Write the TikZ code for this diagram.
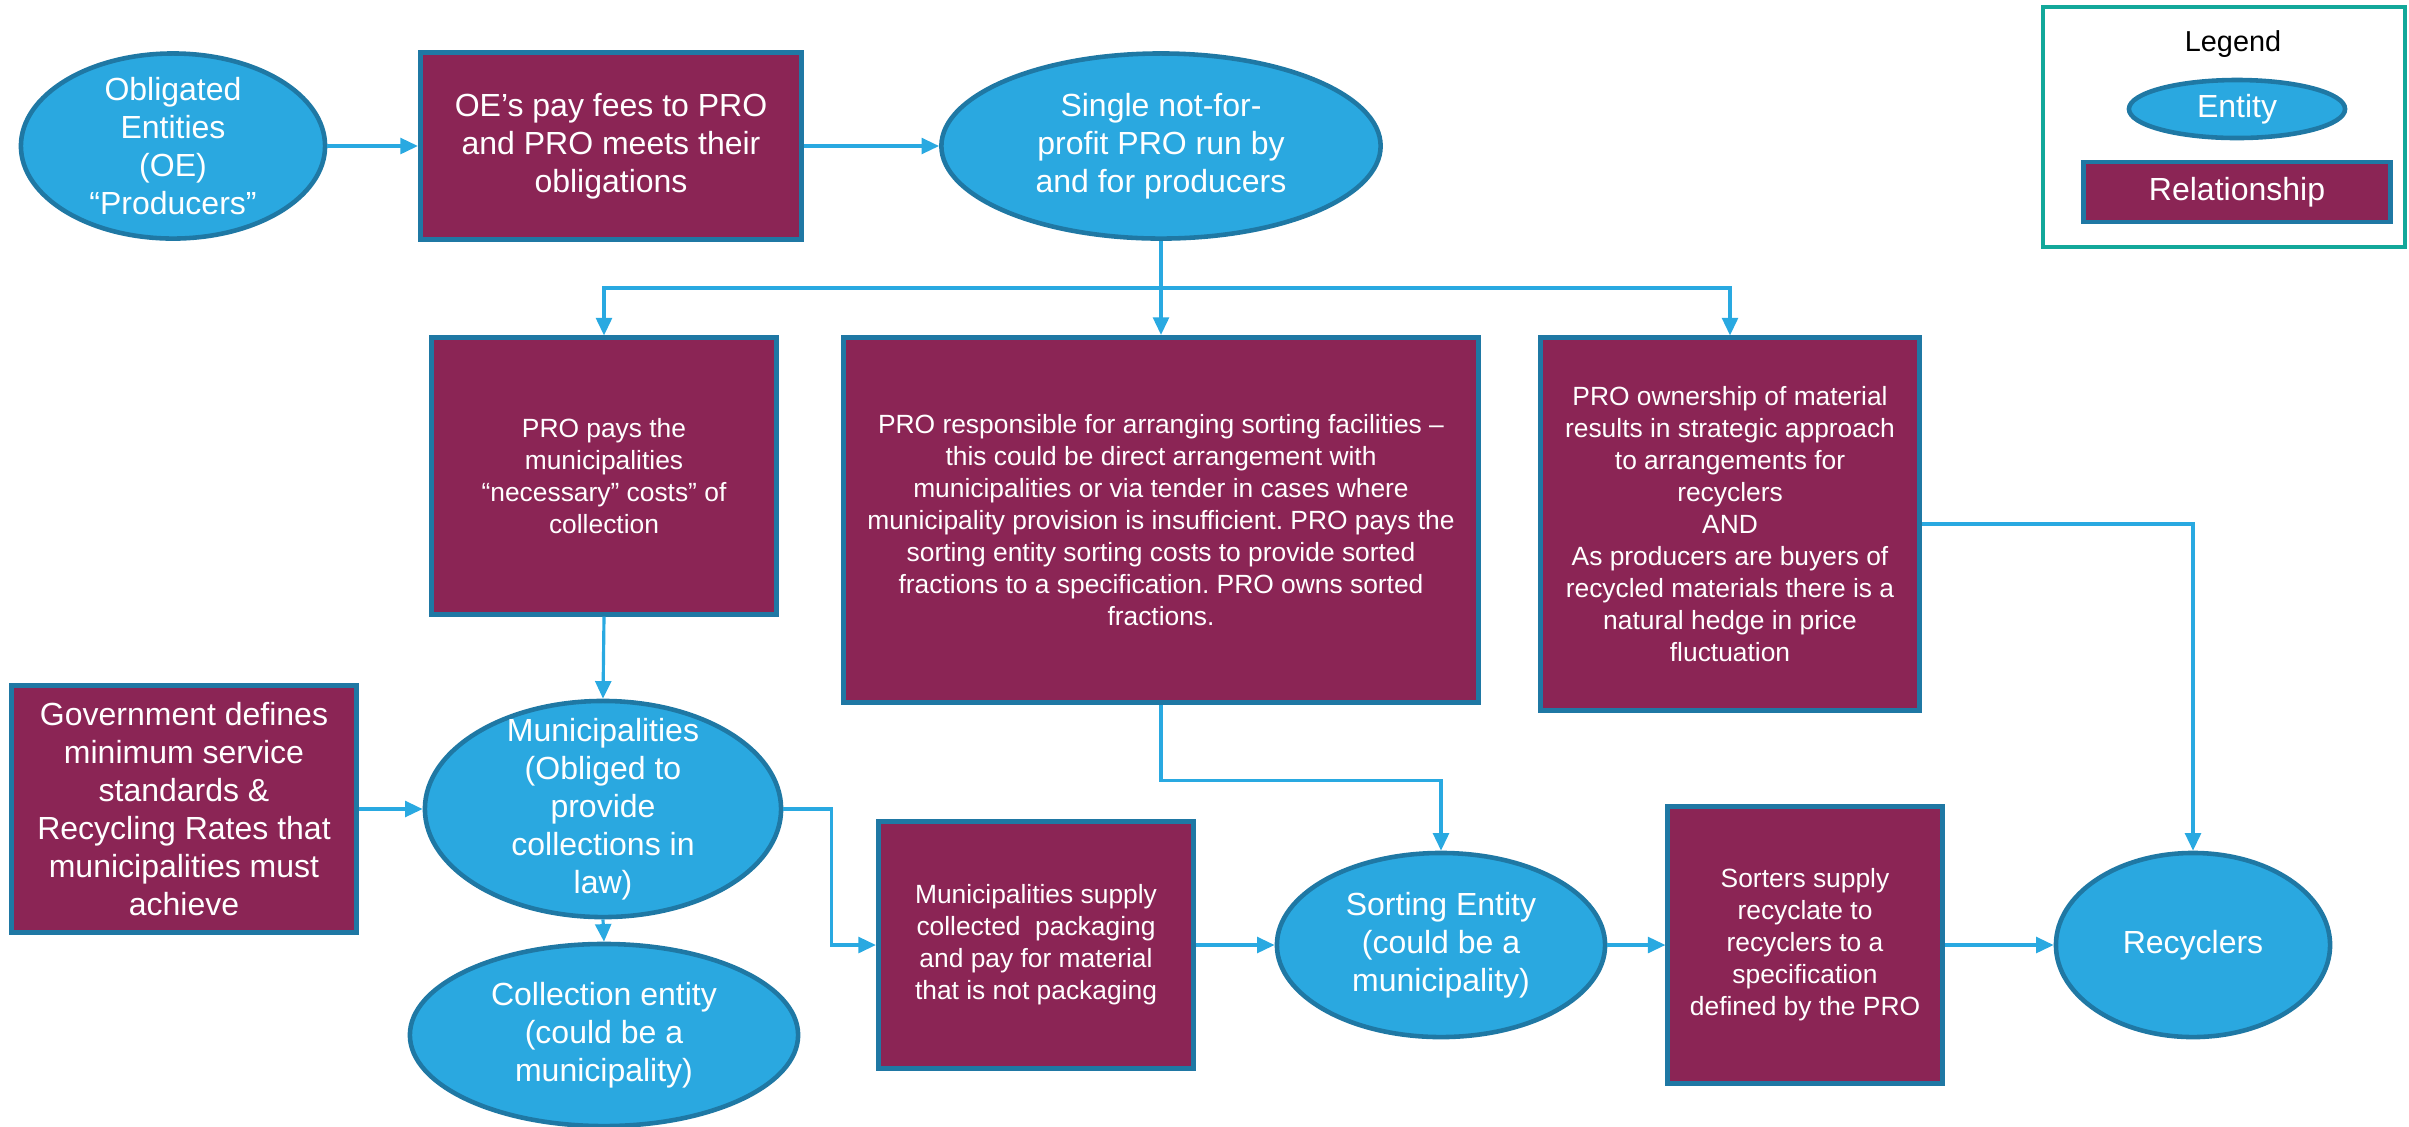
\documentclass[tikz,border=0pt]{standalone}
\usepackage{fontspec}
\setmainfont{Liberation Sans}
\usetikzlibrary{shapes.geometric,arrows.meta}
\frenchspacing
\definecolor{entfill}{HTML}{2AA8E0}
\definecolor{edgeblue}{HTML}{1F78A4}
\definecolor{relfill}{HTML}{8B2555}
\definecolor{linkblue}{HTML}{29A9E1}
\definecolor{legteal}{HTML}{12A89A}
\tikzset{
  entity/.style={ellipse,draw=edgeblue,fill=entfill,line width=1.3pt,inner sep=0pt},
  etext/.style={text=white,align=center,font=\fontsize{9.1}{10.8}\selectfont},
  relation/.style={rectangle,draw=edgeblue,fill=relfill,line width=1.4pt,inner sep=0pt,text=white,align=center},
  big/.style={font=\fontsize{9.1}{10.8}\selectfont},
  small/.style={font=\fontsize{7.5}{9.1}\selectfont},
  link/.style={draw=linkblue,line width=0.9pt,-{Triangle[length=5pt,width=4.5pt]}},
}
\begin{document}
\begin{tikzpicture}[x=0.01cm,y=-0.01cm]
\useasboundingbox (0,0) rectangle (2409,1126);
% top row
\node[entity,minimum width=3.04cm,minimum height=1.85cm,
  label={[etext]center:Obligated\\Entities\\(OE)\\“Producers”}] (oe) at (173,146) {};
\node[relation,big,minimum width=3.81cm,minimum height=1.87cm] (fees) at (611,146)
  {OE’s pay fees to PRO\\and PRO meets their\\obligations};
\node[entity,minimum width=4.39cm,minimum height=1.85cm,
  label={[etext]center:Single not-for-\\profit PRO run by\\and for producers}] (pro) at (1161,146) {};
\coordinate (fork) at (1161,288);
% middle row
\node[relation,small,minimum width=3.45cm,minimum height=2.76cm] (paycoll) at (604,476)
  {PRO pays the\\municipalities\\“necessary” costs” of\\collection};
\node[relation,small,minimum width=6.34cm,minimum height=3.65cm] (sortdeal) at (1161,520)
  {PRO responsible for arranging sorting facilities –\\this could be direct arrangement with\\municipalities or via tender in cases where\\municipality provision is insufficient. PRO pays the\\sorting entity sorting costs to provide sorted\\fractions to a specification. PRO owns sorted\\fractions.};
\node[relation,small,minimum width=3.79cm,minimum height=3.72cm] (owner) at (1730,524)
  {PRO ownership of material\\results in strategic approach\\to arrangements for\\recyclers\\AND\\As producers are buyers of\\recycled materials there is a\\natural hedge in price\\fluctuation};
% bottom row
\node[relation,big,minimum width=3.45cm,minimum height=2.46cm] (gov) at (184,809)
  {Government defines\\minimum service\\standards \&\\Recycling Rates that\\municipalities must\\achieve};
\node[entity,minimum width=3.56cm,minimum height=2.16cm,
  label={[etext]center:Municipalities\\(Obliged to\\provide\\collections in\\law)}] (munic) at (603,809) {};
\node[entity,minimum width=3.88cm,minimum height=1.82cm,
  label={[etext]center:Collection entity\\(could be a\\municipality)}] (collent) at (604,1035) {};
\node[relation,small,minimum width=3.15cm,minimum height=2.46cm] (supply) at (1036,945)
  {Municipalities supply\\collected\ \ packaging\\and pay for material\\that is not packaging};
\node[entity,minimum width=3.28cm,minimum height=1.84cm,
  label={[etext]center:Sorting Entity\\(could be a\\municipality)}] (sortent) at (1441,945) {};
\node[relation,small,minimum width=2.74cm,minimum height=2.76cm] (sorters) at (1805,945)
  {Sorters supply\\recyclate to\\recyclers to a\\specification\\defined by the PRO};
\node[entity,minimum width=2.74cm,minimum height=1.84cm,
  label={[etext]center:Recyclers}] (recyc) at (2193,945) {};
% legend
\node[draw=legteal,line width=1.2pt,minimum width=3.62cm,minimum height=2.4cm] (legend) at (2224,127) {};
\node[font=\fontsize{8.2}{10}\selectfont] (legtitle) at (2233,44) {Legend};
\node[entity,minimum width=2.16cm,minimum height=0.58cm,label={[etext]center:Entity}] (legent) at (2237,109) {};
\node[relation,big,minimum width=3.06cm,minimum height=0.6cm] (legrel) at (2237,192) {Relationship};
% connectors
\draw[link] (oe.east) -- (fees.west);
\draw[link] (fees.east) -- (pro.west);
\draw[link] (pro.south) -- (sortdeal.north);
\draw[link] (fork) -| (paycoll.north);
\draw[link] (fork) -| (owner.north);
\draw[link] (paycoll.south) -- (munic.north);
\draw[link] (gov.east) -- (munic.west);
\draw[link] (munic.south) -- (collent.north);
\draw[link] (munic.east) -- ++(48,0) |- (supply.west);
\draw[link] (supply.east) -- (sortent.west);
\draw[link] (sortdeal.south) -- ++(0,75) -| (sortent.north);
\draw[link] (sortent.east) -- (sorters.west);
\draw[link] (sorters.east) -- (recyc.west);
\draw[link] (owner.east) -| (recyc.north);
\end{tikzpicture}
\end{document}
